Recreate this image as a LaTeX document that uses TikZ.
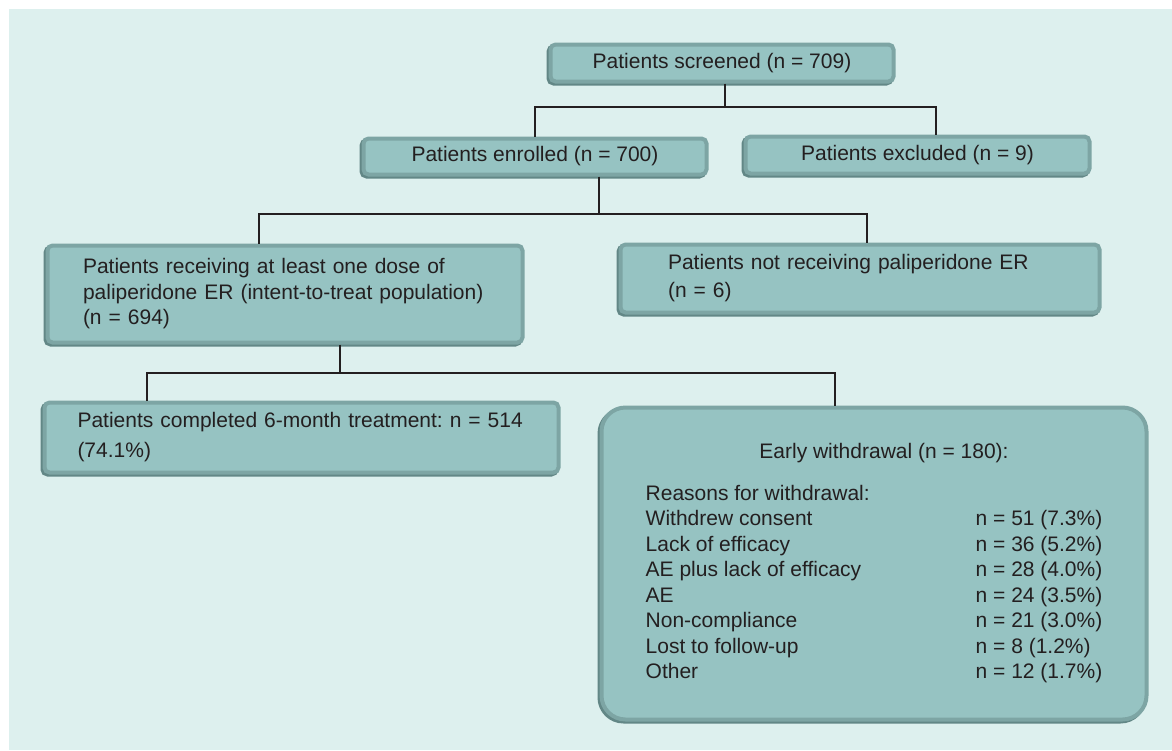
\documentclass[tikz,border=0pt]{standalone}
\usepackage{fontspec}
\setmainfont{Liberation Sans}
\usetikzlibrary{shadows}

\definecolor{panel}{HTML}{DDF0EE}
\definecolor{boxfill}{HTML}{96C3C2}
\definecolor{boxedge}{HTML}{7DA5A4}
\definecolor{boxdark}{HTML}{628786}
\definecolor{ink}{HTML}{231F20}

\begin{document}
\frenchspacing
\begin{tikzpicture}[x=1pt,y=-1pt,
		font=\fontsize{21}{25.5}\selectfont, text=ink,
		box/.style={fill=boxfill, draw=boxedge, line width=4pt, rounded corners=5pt,
			outer sep=2pt, inner sep=0pt,
			drop shadow={shadow xshift=-2pt, shadow yshift=-2pt, fill=boxdark,
				draw=boxdark, line width=4pt, opacity=1}},
		textbox/.style={box, align=left, inner ysep=0pt},
		link/.style={draw=ink, line width=1.3pt}]
			\useasboundingbox (0,0) rectangle (1172,750);
			\fill[panel] (9,9) rectangle (1172,750);
			
			\node[box, minimum width=343pt, minimum height=37pt] (scr) at (722,63) {Patients screened (n = 709)};
			\node[box, minimum width=343pt, minimum height=36pt] (enr) at (535,156.5) {Patients enrolled (n = 700)};
			\node[box, minimum width=344pt, minimum height=37pt] (exc) at (917.5,155) {Patients excluded (n = 9)};
			
			\node[textbox, text width=404pt, inner xsep=35.5pt, minimum height=97pt] (recv) at (285,294)
				{Patients receiving at least one dose of\\paliperidone ER (intent-to-treat population)\\(n = 694)};
			\node[textbox, text width=384pt, inner xsep=47.5pt, minimum height=68pt] (nrecv) at (860,278.5)
				{Patients not receiving paliperidone ER\\[2.5pt](n = 6)};
			
			\node[textbox, text width=448pt, inner xsep=33pt, minimum height=70pt] (done) at (301.5,437.5)
				{Patients completed 6-month treatment: n = 514\\[4.5pt](74.1\%)};
			\node[box, rounded corners=24pt, minimum width=545pt, minimum height=312pt] (early) at (874,563.5) {%
				\begin{tabular}{@{}p{330pt}@{}l@{}}
					\multicolumn{2}{@{}c@{}}{\hspace{20pt}Early withdrawal (n = 180):}\\[16.5pt]
					Reasons for withdrawal: & \\
					Withdrew consent & n = 51 (7.3\%)\\
					Lack of efficacy & n = 36 (5.2\%)\\
					AE plus lack of efficacy & n = 28 (4.0\%)\\
					AE & n = 24 (3.5\%)\\
					Non-compliance & n = 21 (3.0\%)\\
					Lost to follow-up & n = 8 (1.2\%)\\
					Other & n = 12 (1.7\%)
				\end{tabular}};
			
			% tree lines
			\draw[link] ([xshift=3pt]scr.south) -- ++(0,23.5) coordinate (j1);
			\draw[link] (enr.north) |- (j1) -| ([xshift=18.5pt]exc.north);
			
			\draw[link] ([xshift=64pt]enr.south) -- ++(0,37.5) coordinate (j2);
			\draw[link] ([xshift=-26pt]recv.north) |- (j2) -| ([xshift=7pt]nrecv.north);
			
			\draw[link] ([xshift=55pt]recv.south) -- ++(0,28.5) coordinate (j3);
			\draw[link] ([xshift=-154.5pt]done.north) |- (j3) -| ([xshift=-39pt]early.north);
		\end{tikzpicture}
\end{document}
